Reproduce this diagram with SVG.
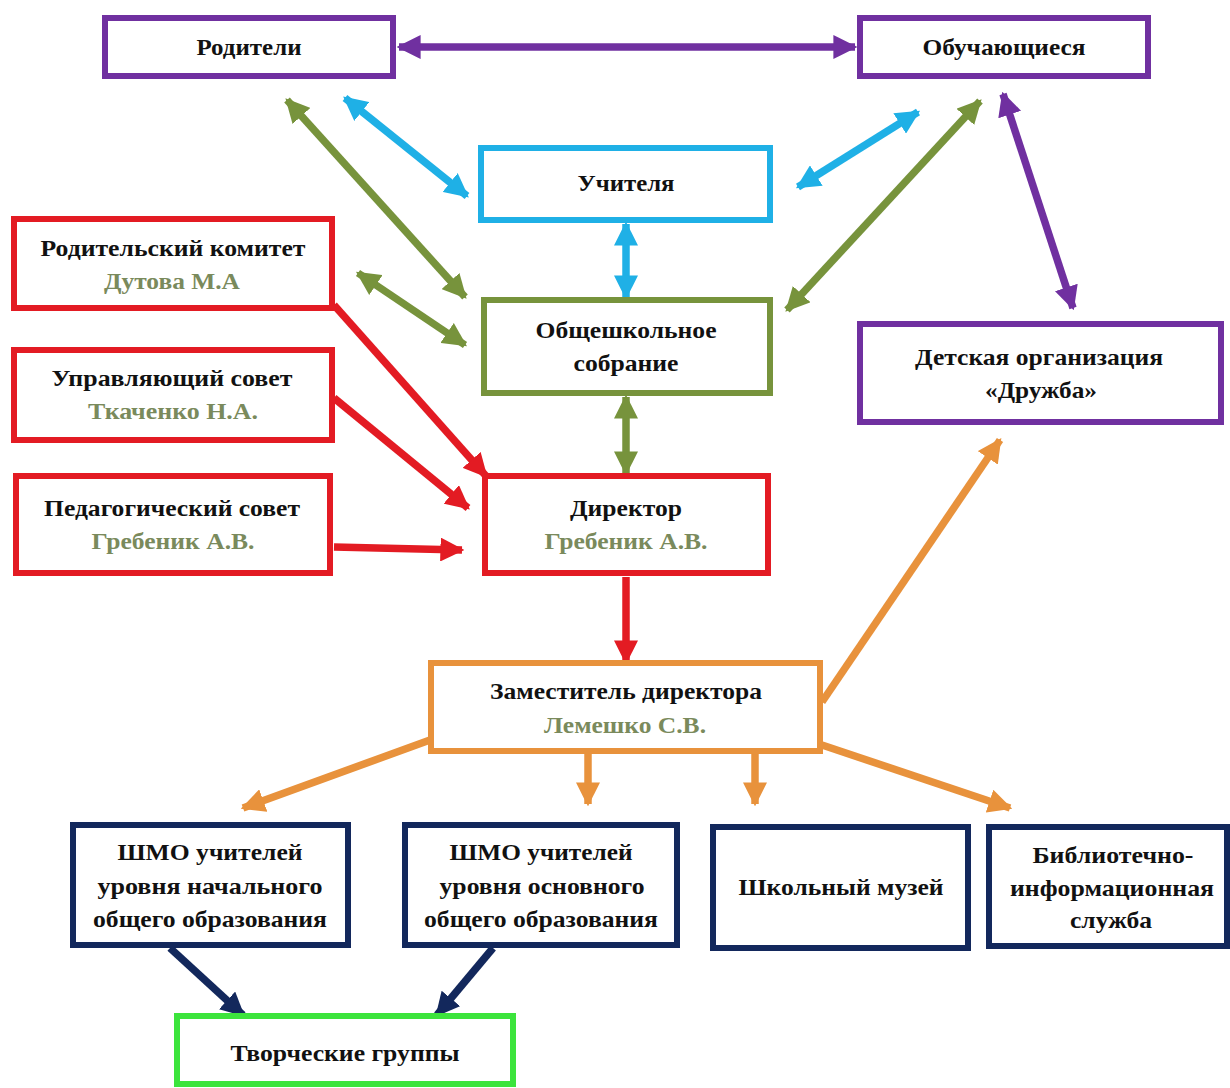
<svg xmlns="http://www.w3.org/2000/svg" width="1230" height="1088" viewBox="0 0 1230 1088">
<defs>
<style>
.b{fill:#fff;stroke-width:6}
.t{font-family:"Liberation Serif","Times New Roman",serif;font-weight:bold;font-size:24px;fill:#111;text-anchor:middle}
.n{fill:#7A8A5C}
.c{fill:none;stroke-width:7.5}
</style>
<marker id="mP" viewBox="0 0 10 10" refX="9" refY="5" markerWidth="3.2" markerHeight="3.2" orient="auto-start-reverse"><path d="M0,0L10,5L0,10z" fill="#7030A0"/></marker>
<marker id="mB" viewBox="0 0 10 10" refX="9" refY="5" markerWidth="3.2" markerHeight="3.2" orient="auto-start-reverse"><path d="M0,0L10,5L0,10z" fill="#1FB0E6"/></marker>
<marker id="mG" viewBox="0 0 10 10" refX="9" refY="5" markerWidth="3.2" markerHeight="3.2" orient="auto-start-reverse"><path d="M0,0L10,5L0,10z" fill="#77933C"/></marker>
<marker id="mR" viewBox="0 0 10 10" refX="9" refY="5" markerWidth="3.2" markerHeight="3.2" orient="auto-start-reverse"><path d="M0,0L10,5L0,10z" fill="#E31B23"/></marker>
<marker id="mO" viewBox="0 0 10 10" refX="9" refY="5" markerWidth="3.2" markerHeight="3.2" orient="auto-start-reverse"><path d="M0,0L10,5L0,10z" fill="#E8923C"/></marker>
<marker id="mN" viewBox="0 0 10 10" refX="9" refY="5" markerWidth="3.2" markerHeight="3.2" orient="auto-start-reverse"><path d="M0,0L10,5L0,10z" fill="#13285C"/></marker>
</defs>
<rect width="1230" height="1088" fill="#fff"/>
<g id="connectors">
<line class="c" stroke="#7030A0" x1="399" y1="47" x2="855" y2="47" marker-start="url(#mP)" marker-end="url(#mP)"/>
<line class="c" stroke="#1FB0E6" x1="345" y1="98" x2="467" y2="196" marker-start="url(#mB)" marker-end="url(#mB)"/>
<line class="c" stroke="#77933C" x1="287" y1="100" x2="465" y2="297" marker-start="url(#mG)" marker-end="url(#mG)"/>
<line class="c" stroke="#1FB0E6" x1="798" y1="187" x2="918" y2="112" marker-start="url(#mB)" marker-end="url(#mB)"/>
<line class="c" stroke="#77933C" x1="980" y1="101" x2="787" y2="310" marker-start="url(#mG)" marker-end="url(#mG)"/>
<line class="c" stroke="#7030A0" x1="1003" y1="94" x2="1073" y2="308" marker-start="url(#mP)" marker-end="url(#mP)"/>
<line class="c" stroke="#1FB0E6" x1="626" y1="224" x2="626" y2="297" marker-start="url(#mB)" marker-end="url(#mB)"/>
<line class="c" stroke="#77933C" x1="358" y1="273" x2="465" y2="345" marker-start="url(#mG)" marker-end="url(#mG)"/>
<line class="c" stroke="#77933C" x1="626" y1="397" x2="626" y2="473" marker-start="url(#mG)" marker-end="url(#mG)"/>
<line class="c" stroke="#E31B23" x1="334" y1="305" x2="486" y2="476" marker-end="url(#mR)"/>
<line class="c" stroke="#E31B23" x1="334" y1="398" x2="468" y2="508" marker-end="url(#mR)"/>
<line class="c" stroke="#E31B23" x1="334" y1="547" x2="462" y2="550" marker-end="url(#mR)"/>
<line class="c" stroke="#E31B23" x1="626" y1="577" x2="626" y2="662" marker-end="url(#mR)"/>
<line class="c" stroke="#E8923C" x1="822" y1="702" x2="1000" y2="440" marker-end="url(#mO)"/>
<line class="c" stroke="#E8923C" x1="430" y1="740" x2="243" y2="808" marker-end="url(#mO)"/>
<line class="c" stroke="#E8923C" x1="588" y1="754" x2="588" y2="804" marker-end="url(#mO)"/>
<line class="c" stroke="#E8923C" x1="755" y1="754" x2="755" y2="804" marker-end="url(#mO)"/>
<line class="c" stroke="#E8923C" x1="822" y1="745" x2="1010" y2="808" marker-end="url(#mO)"/>
<line class="c" stroke="#13285C" x1="170" y1="948" x2="243" y2="1015" marker-end="url(#mN)"/>
<line class="c" stroke="#13285C" x1="493" y1="948" x2="437" y2="1015" marker-end="url(#mN)"/>
</g>
<g id="n-roditeli"><rect class="b" stroke="#7030A0" x="105" y="18" width="288" height="58"/><text class="t" x="249" y="55" textLength="105" lengthAdjust="spacingAndGlyphs">Родители</text></g>
<g id="n-obuch"><rect class="b" stroke="#7030A0" x="860" y="18" width="288" height="58"/><text class="t" x="1004" y="55" textLength="163" lengthAdjust="spacingAndGlyphs">Обучающиеся</text></g>
<g id="n-uchitelya"><rect class="b" stroke="#1FB0E6" x="481" y="148" width="289" height="72"/><text class="t" x="626" y="191" textLength="97" lengthAdjust="spacingAndGlyphs">Учителя</text></g>
<g id="n-rodkom"><rect class="b" stroke="#E31B23" x="14" y="219" width="318" height="89"/><text class="t" x="173" y="256" textLength="265" lengthAdjust="spacingAndGlyphs">Родительский комитет</text><text class="t n" x="172" y="289" textLength="136" lengthAdjust="spacingAndGlyphs">Дутова М.А</text></g>
<g id="n-sobranie"><rect class="b" stroke="#77933C" x="484" y="300" width="286" height="93"/><text class="t" x="626" y="338" textLength="181" lengthAdjust="spacingAndGlyphs">Общешкольное</text><text class="t" x="626" y="371" textLength="105" lengthAdjust="spacingAndGlyphs">собрание</text></g>
<g id="n-detskaya"><rect class="b" stroke="#7030A0" x="860" y="324" width="361" height="98"/><text class="t" x="1039" y="365" textLength="248" lengthAdjust="spacingAndGlyphs">Детская организация</text><text class="t" x="1041" y="398" textLength="112" lengthAdjust="spacingAndGlyphs">«Дружба»</text></g>
<g id="n-upravl"><rect class="b" stroke="#E31B23" x="14" y="350" width="318" height="90"/><text class="t" x="172" y="386" textLength="241" lengthAdjust="spacingAndGlyphs">Управляющий совет</text><text class="t n" x="173" y="419" textLength="170" lengthAdjust="spacingAndGlyphs">Ткаченко Н.А.</text></g>
<g id="n-pedsovet"><rect class="b" stroke="#E31B23" x="16" y="476" width="314" height="97"/><text class="t" x="172" y="516" textLength="256" lengthAdjust="spacingAndGlyphs">Педагогический совет</text><text class="t n" x="173" y="549" textLength="163" lengthAdjust="spacingAndGlyphs">Гребеник А.В.</text></g>
<g id="n-direktor"><rect class="b" stroke="#E31B23" x="485" y="476" width="283" height="97"/><text class="t" x="626" y="516" textLength="112" lengthAdjust="spacingAndGlyphs">Директор</text><text class="t n" x="626" y="549" textLength="163" lengthAdjust="spacingAndGlyphs">Гребеник А.В.</text></g>
<g id="n-zam"><rect class="b" stroke="#E8923C" x="431" y="663" width="389" height="88"/><text class="t" x="626" y="699" textLength="272" lengthAdjust="spacingAndGlyphs">Заместитель директора</text><text class="t n" x="625" y="733" textLength="162" lengthAdjust="spacingAndGlyphs">Лемешко С.В.</text></g>
<g id="n-shmo1"><rect class="b" stroke="#13285C" x="73" y="825" width="275" height="120"/><text class="t" x="210" y="860" textLength="185" lengthAdjust="spacingAndGlyphs">ШМО учителей</text><text class="t" x="210" y="894" textLength="225" lengthAdjust="spacingAndGlyphs">уровня начального</text><text class="t" x="210" y="927" textLength="234" lengthAdjust="spacingAndGlyphs">общего образования</text></g>
<g id="n-shmo2"><rect class="b" stroke="#13285C" x="405" y="825" width="272" height="120"/><text class="t" x="541" y="860" textLength="183" lengthAdjust="spacingAndGlyphs">ШМО учителей</text><text class="t" x="542" y="894" textLength="205" lengthAdjust="spacingAndGlyphs">уровня основного</text><text class="t" x="541" y="927" textLength="234" lengthAdjust="spacingAndGlyphs">общего образования</text></g>
<g id="n-muzei"><rect class="b" stroke="#13285C" x="713" y="827" width="255" height="121"/><text class="t" x="841" y="895" textLength="205" lengthAdjust="spacingAndGlyphs">Школьный музей</text></g>
<g id="n-biblio"><rect class="b" stroke="#13285C" x="989" y="827" width="238" height="119"/><text class="t" x="1113" y="863" textLength="161" lengthAdjust="spacingAndGlyphs">Библиотечно-</text><text class="t" x="1112" y="896" textLength="204" lengthAdjust="spacingAndGlyphs">информационная</text><text class="t" x="1111" y="928" textLength="82" lengthAdjust="spacingAndGlyphs">служба</text></g>
<g id="n-tvorch"><rect class="b" stroke="#3CE43C" x="177" y="1016" width="336" height="68"/><text class="t" x="345" y="1061" textLength="229" lengthAdjust="spacingAndGlyphs">Творческие группы</text></g>
</svg>
